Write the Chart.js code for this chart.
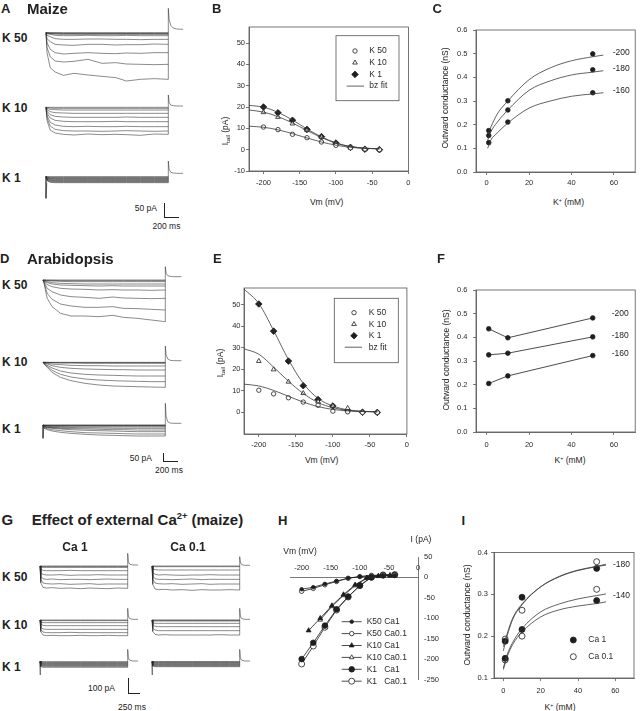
<!DOCTYPE html>
<html>
<head>
<meta charset="utf-8">
<script src="https://cdn.jsdelivr.net/npm/chart.js@4.4.1/dist/chart.umd.min.js"></script>
<style>
  body { margin: 0; background: #fff; }
  #fig { position: relative; width: 640px; height: 711px; overflow: hidden; font-family: "Liberation Sans", Arial, sans-serif; color: #222; }
  #fig canvas { position: absolute; }
  .t { position: absolute; white-space: nowrap; line-height: 1; }
  .pl { font-weight: bold; font-size: 13px; }
  .ttl { font-weight: bold; font-size: 15px; }
  .kl { font-weight: bold; font-size: 12px; }
  .ax { font-size: 8.5px; }
  sup { font-size: 62%; vertical-align: 0.55em; line-height: 0; }
  sub { font-size: 72%; vertical-align: -0.3em; line-height: 0; }
  .bar { position: absolute; border-left: 1px solid #222; border-bottom: 1px solid #222; }
</style>
</head>
<body>
<div id="fig"></div>
<script>
/* ---- 資料：從參考圖讀出 ---- */

// 電流軌跡：時間點 (ms)，振幅為參考圖讀值
const tA = [0, 15, 60, 130, 250, 400, 600, 800, 1000, 1150, 1350, 1550, 1750];
const tG = [0, 18, 70, 150, 290, 470, 700, 940, 1170, 1350, 1580, 1810, 2050];
const tailTA = [1750, 1750, 1762, 1785, 1820, 1870, 1960];
const tailTD = [1750, 1750, 1762, 1785, 1820, 1870, 1980];
const tailTG = [2050, 2050, 2064, 2090, 2130, 2180, 2290];
const onsetT = [0, 0, 12];

const aK50 = [
  [0, -60, -105, -118, -128, -122, -127, -131, -135, -145, -140, -138, -140],
  [0, -45, -72, -85, -88, -86, -80, -92, -90, -94, -95, -96, -95],
  [0, -30, -50, -60, -64, -62, -60, -62, -63, -61, -62, -60, -60],
  [0, -18, -27, -35, -37, -38, -35, -35, -37, -36, -36, -34, -35],
  [0, -8, -12, -18, -20, -20, -19, -19, -20, -20, -21, -20, -20],
  [0, -3, -5, -8, -9, -9, -8, -9, -9, -8, -9, -9, -9],
  [0, -2, -3, -4, -5, -5, -5, -5, -5, -5, -5, -5, -5],
  [0, -1, -2, -3, -3, -3, -3, -3, -3, -3, -3, -3, -3],
  [0, -1, -1, -1, -2, -2, -2, -2, -2, -2, -2, -2, -2],
  [0, 0, 0, 0, 0, 0, 0, 0, 0, 0, 0, 0, 0]
];
const aK50tail = [-140, 73, 40, 22, 14, 11, 10];
const aK10 = [
  [0, -40, -68, -77, -81, -83, -80, -82, -81, -82, -84, -80, -81],
  [0, -32, -56, -66, -70, -71, -71, -72, -71, -70, -71, -72, -71],
  [0, -25, -45, -53, -57, -58, -57, -58, -58, -57, -58, -58, -58],
  [0, -18, -32, -39, -42, -43, -43, -43, -42, -43, -43, -43, -43],
  [0, -12, -22, -27, -29, -30, -30, -30, -30, -29, -30, -30, -30],
  [0, -7, -13, -16, -17, -18, -18, -18, -18, -18, -18, -18, -18],
  [0, -3, -6, -7, -8, -8, -8, -8, -8, -8, -8, -8, -8],
  [0, -1, -2, -3, -3, -3, -3, -3, -3, -3, -3, -3, -3],
  [0, 0, 0, 0, 0, 0, 0, 0, 0, 0, 0, 0, 0]
];
const aK10tail = [-81, 37, 15, 7, 5, 4, 4];
const aK1 = [
  [0, -12, -17, -18, -18, -18, -18, -18, -18, -18, -18, -18, -18],
  [0, -11, -15, -16, -16, -16, -16, -16, -16, -16, -16, -16, -16],
  [0, -9, -13, -14, -14, -14, -14, -14, -14, -14, -14, -14, -14],
  [0, -8, -11, -12, -12, -12, -12, -12, -12, -12, -12, -12, -12],
  [0, -6, -9, -10, -10, -10, -10, -10, -10, -10, -10, -10, -10],
  [0, -5, -7, -8, -8, -8, -8, -8, -8, -8, -8, -8, -8],
  [0, -4, -5, -6, -6, -6, -6, -6, -6, -6, -6, -6, -6],
  [0, -2, -4, -4, -4, -4, -4, -4, -4, -4, -4, -4, -4],
  [0, -1, -2, -2, -2, -2, -2, -2, -2, -2, -2, -2, -2],
  [0, 0, 0, 0, 0, 0, 0, 0, 0, 0, 0, 0, 0]
];
const aK1tail = [-18, 47, 22, 13, 11, 10, 10];
const aK1onset = [0, -65, -18];

const dK50 = [
  [0, -10, -55, -80, -100, -108, -108, -110, -106, -112, -115, -120, -125],
  [0, -8, -40, -58, -72, -78, -82, -82, -80, -85, -86, -88, -90],
  [0, -6, -25, -35, -45, -50, -52, -55, -51, -54, -55, -56, -55],
  [0, -4, -14, -20, -25, -27, -28, -30, -29, -30, -30, -31, -30],
  [0, -3, -8, -12, -15, -16, -17, -18, -17, -18, -18, -18, -18],
  [0, -2, -5, -8, -10, -11, -12, -12, -12, -12, -12, -12, -12],
  [0, -1, -2, -3, -4, -5, -5, -5, -5, -5, -5, -5, -5],
  [0, 0, -1, -1, -2, -2, -2, -2, -2, -2, -2, -2, -2],
  [0, 0, 0, 0, 0, 0, 0, 0, 0, 0, 0, 0, 0]
];
const dK50tail = [-125, 40, 20, 13, 11, 10, 10];
const dK10 = [
  [0, -5, -15, -30, -45, -55, -63, -68, -71, -72, -73, -74, -75],
  [0, -4, -12, -24, -36, -44, -50, -53, -55, -56, -57, -58, -58],
  [0, -3, -9, -17, -26, -32, -36, -38, -39, -40, -41, -41, -41],
  [0, -2, -5, -10, -15, -18, -20, -21, -22, -22, -23, -23, -23],
  [0, -1, -3, -5, -7, -9, -10, -10, -11, -11, -11, -11, -11],
  [0, 0, -1, -1, -2, -2, -3, -3, -3, -3, -3, -3, -3],
  [0, 0, 0, -1, -1, -1, -1, -1, -1, -1, -1, -1, -1],
  [0, 0, 0, 0, 0, 0, 0, 0, 0, 0, 0, 0, 0]
];
const dK10tail = [-75, 49, 22, 10, 6, 5, 5];
const dK1 = [
  [0, -10, -14, -18, -22, -25, -28, -30, -31, -32, -33, -33, -33],
  [0, -8, -11, -14, -17, -20, -23, -24, -25, -26, -27, -27, -27],
  [0, -6, -8, -10, -12, -14, -16, -17, -18, -19, -20, -20, -20],
  [0, -5, -7, -8, -10, -11, -12, -13, -14, -14, -15, -15, -15],
  [0, -4, -6, -7, -8, -8, -9, -9, -10, -10, -10, -10, -10],
  [0, -3, -4, -5, -5, -6, -6, -6, -6, -6, -6, -6, -6],
  [0, -2, -2, -3, -3, -3, -3, -3, -3, -3, -3, -3, -3],
  [0, -1, -2, -2, -2, -2, -2, -2, -2, -2, -2, -2, -2],
  [0, -1, -1, -1, -1, -1, -1, -1, -1, -1, -1, -1, -1],
  [0, 0, 0, 0, 0, 0, 0, 0, 0, 0, 0, 0, 0]
];
const dK1tail = [-33, 65, 25, 10, 6, 5, 5];
const dK1onset = [0, -40, -8];

const gK50ca1 = [
  [0, -50, -64, -66, -65, -67, -66, -68, -66, -67, -68, -66, -67],
  [0, -40, -51, -53, -54, -53, -55, -54, -53, -55, -54, -54, -54],
  [0, -30, -38, -40, -39, -41, -40, -40, -41, -40, -39, -40, -40],
  [0, -20, -25, -27, -27, -26, -28, -27, -27, -26, -27, -27, -27],
  [0, -10, -13, -14, -14, -14, -13, -14, -14, -14, -14, -14, -14],
  [0, -3, -4, -4, -4, -4, -4, -4, -4, -4, -4, -4, -4],
  [0, -1, -2, -2, -2, -2, -2, -2, -2, -2, -2, -2, -2],
  [0, 0, 0, 0, 0, 0, 0, 0, 0, 0, 0, 0, 0]
];
const gK50ca1tail = [-67, 38, 14, 6, 4, 3, 3];
const gK50ca01 = [
  [0, -55, -69, -71, -70, -72, -71, -73, -71, -72, -72, -71, -72],
  [0, -40, -51, -53, -54, -53, -55, -54, -53, -55, -54, -54, -54],
  [0, -30, -38, -40, -40, -41, -40, -39, -41, -40, -40, -40, -40],
  [0, -20, -25, -27, -26, -27, -28, -27, -27, -26, -27, -27, -27],
  [0, -9, -11, -12, -12, -12, -12, -12, -12, -12, -12, -12, -12],
  [0, -1, -2, -2, -2, -2, -2, -2, -2, -2, -2, -2, -2],
  [0, 0, 0, 0, 0, 0, 0, 0, 0, 0, 0, 0, 0]
];
const gK50ca01tail = [-72, 28, 12, 5, 3, 2, 2];
const gK10ca1 = [
  [0, -35, -45, -47, -46, -47, -47, -46, -47, -47, -46, -47, -47],
  [0, -28, -36, -38, -38, -38, -37, -38, -38, -38, -38, -38, -38],
  [0, -21, -27, -28, -28, -28, -28, -28, -28, -28, -28, -28, -28],
  [0, -13, -16, -17, -17, -17, -17, -17, -17, -17, -17, -17, -17],
  [0, -6, -8, -8, -8, -8, -8, -8, -8, -8, -8, -8, -8],
  [0, -1, -2, -2, -2, -2, -2, -2, -2, -2, -2, -2, -2],
  [0, 0, 0, 0, 0, 0, 0, 0, 0, 0, 0, 0, 0]
];
const gK10ca1tail = [-47, 35, 12, 5, 3, 2, 2];
const gK10ca01 = [
  [0, -34, -43, -45, -44, -45, -45, -45, -45, -45, -44, -45, -45],
  [0, -24, -30, -32, -32, -32, -32, -32, -32, -32, -32, -32, -32],
  [0, -15, -19, -20, -20, -20, -20, -20, -20, -20, -20, -20, -20],
  [0, -8, -10, -10, -10, -10, -10, -10, -10, -10, -10, -10, -10],
  [0, -2, -3, -3, -3, -3, -3, -3, -3, -3, -3, -3, -3],
  [0, -1, -1, -1, -1, -1, -1, -1, -1, -1, -1, -1, -1],
  [0, 0, 0, 0, 0, 0, 0, 0, 0, 0, 0, 0, 0]
];
const gK10ca01tail = [-45, 35, 12, 5, 3, 2, 2];
const gK1ca1 = [
  [0, -15, -17, -17, -17, -17, -17, -17, -17, -17, -17, -17, -17],
  [0, -12, -14, -14, -14, -14, -14, -14, -14, -14, -14, -14, -14],
  [0, -10, -12, -12, -12, -12, -12, -12, -12, -12, -12, -12, -12],
  [0, -8, -10, -10, -10, -10, -10, -10, -10, -10, -10, -10, -10],
  [0, -7, -8, -8, -8, -8, -8, -8, -8, -8, -8, -8, -8],
  [0, -5, -6, -6, -6, -6, -6, -6, -6, -6, -6, -6, -6],
  [0, -3, -4, -4, -4, -4, -4, -4, -4, -4, -4, -4, -4],
  [0, -2, -2, -2, -2, -2, -2, -2, -2, -2, -2, -2, -2],
  [0, 0, 0, 0, 0, 0, 0, 0, 0, 0, 0, 0, 0]
];
const gK1ca1tail = [-17, 37, 12, 5, 3, 2, 2];
const gK1ca01 = [
  [0, -13, -15, -15, -15, -15, -15, -15, -15, -15, -15, -15, -15],
  [0, -11, -13, -13, -13, -13, -13, -13, -13, -13, -13, -13, -13],
  [0, -9, -11, -11, -11, -11, -11, -11, -11, -11, -11, -11, -11],
  [0, -8, -9, -9, -9, -9, -9, -9, -9, -9, -9, -9, -9],
  [0, -6, -7, -7, -7, -7, -7, -7, -7, -7, -7, -7, -7],
  [0, -4, -5, -5, -5, -5, -5, -5, -5, -5, -5, -5, -5],
  [0, -2, -3, -3, -3, -3, -3, -3, -3, -3, -3, -3, -3],
  [0, -1, -1, -1, -1, -1, -1, -1, -1, -1, -1, -1, -1],
  [0, 0, 0, 0, 0, 0, 0, 0, 0, 0, 0, 0, 0]
];
const gK1ca01tail = [-15, 37, 12, 5, 3, 2, 2];
const gK1onset = [0, -40, -16];

// B / E：尾電流 (pA) vs Vm (mV)
const vSteps = [-200, -180, -160, -140, -120, -100, -80, -60, -40];
const vFit = [-220, -200, -180, -160, -140, -120, -100, -80, -60, -40];
const bK50 = [10.6, 9.4, 7.2, 5.6, 3.6, 2.0, 0.9, 0.3, 0];
const bK10 = [17.5, 15.3, 12.2, 9.1, 5.9, 2.8, 0.9, 0.2, 0];
const bK1 = [20.0, 17.3, 13.8, 9.5, 6.1, 3.1, 1.1, 0.2, 0];
const bFit50 = [11.0, 10.5, 9.3, 7.5, 5.5, 3.6, 2.1, 1.1, 0.6, 0.4];
const bFit10 = [18.6, 17.6, 15.5, 12.5, 9.0, 5.7, 3.0, 1.4, 0.7, 0.4];
const bFit1 = [20.8, 19.9, 17.5, 13.9, 9.7, 6.0, 3.2, 1.5, 0.7, 0.4];
const eK50 = [10.3, 8.6, 6.8, 4.8, 3.3, 0.6, 0.3, 0, 0];
const eK10 = [23.8, 19.9, 14.2, 8.9, 5.0, 3.0, 2.0, 0.3, 0];
const eK1 = [50.3, 37.7, 23.8, 12.4, 6.0, 3.0, 0.9, 0.1, 0];
const eFit50 = [13.1, 12.3, 10.2, 7.5, 4.8, 2.7, 1.4, 0.7, 0.4, 0.3];
const eFit10 = [29.5, 27.0, 21.0, 14.5, 8.8, 4.6, 2.2, 1.0, 0.5, 0.3];
const eFit1 = [57.2, 50.5, 38.0, 24.5, 13.5, 6.5, 3.0, 1.2, 0.5, 0.3];
const vTicks = [-200, -150, -100, -50, 0];
const iTicksB = [-10, 0, 10, 20, 30, 40, 50];
const iTicksE = [0, 10, 20, 30, 40, 50];
const tailLegend = ['K 50', 'K 10', 'K 1', 'bz fit'];

// C / F / I：外向電導 (nS) vs K+ (mM)
const kConc = [1, 10, 50];
const kFit = [0.5, 2, 5, 10, 20, 30, 40, 50, 55];
const c200 = [0.175, 0.301, 0.499];
const c180 = [0.154, 0.262, 0.432];
const c160 = [0.124, 0.211, 0.335];
const cFit200 = [0.16, 0.19, 0.245, 0.30, 0.39, 0.44, 0.47, 0.487, 0.494];
const cFit180 = [0.135, 0.17, 0.21, 0.262, 0.345, 0.385, 0.41, 0.422, 0.428];
const cFit160 = [0.10, 0.135, 0.165, 0.207, 0.27, 0.30, 0.32, 0.33, 0.335];
const f200 = [0.436, 0.398, 0.482];
const f180 = [0.326, 0.333, 0.402];
const f160 = [0.205, 0.237, 0.323];
const kTicks = [0, 20, 40, 60];
const gTicksCF = [0, 0.1, 0.2, 0.3, 0.4, 0.5, 0.6];
const kFitI = [0, 2, 5, 10, 20, 30, 40, 50, 55];
const i180ca1 = [0.188, 0.293, 0.362];
const i180ca01 = [0.193, 0.262, 0.378];
const i140ca1 = [0.147, 0.216, 0.285];
const i140ca01 = [0.143, 0.200, 0.312];
const iFit180ca1 = [0.165, 0.20, 0.24, 0.275, 0.318, 0.343, 0.358, 0.367, 0.372];
const iFit180ca01 = [0.175, 0.205, 0.243, 0.277, 0.318, 0.342, 0.357, 0.366, 0.370];
const iFit140ca01 = [0.124, 0.155, 0.185, 0.218, 0.258, 0.277, 0.289, 0.297, 0.301];
const iFit140ca1 = [0.120, 0.150, 0.180, 0.210, 0.246, 0.263, 0.272, 0.278, 0.282];
const gTicksI = [0.1, 0.2, 0.3, 0.4];
const caLegend = ['Ca 1', 'Ca 0.1'];

// H：I-V (maize, Ca 1 vs Ca 0.1)
const vK50 = [-200, -180, -160, -140, -120, -100, -80, -60, -40];
const hK50ca1 = [-29, -24, -16, -9, -2, 2, 4, 5, 5];
const hK50ca01 = [-34, -27, -18, -10, -2, 2, 5, 6, 6];
const vK10ca1 = [-188, -168, -148, -128, -108, -88, -68, -48];
const hK10ca1 = [-130, -100, -69, -42, -18, -1, 3, 4];
const vK10ca01 = [-168, -148, -128, -108, -88, -68, -48];
const hK10ca01 = [-104, -71, -44, -20, -2, 4, 6];
const vK1 = [-200, -180, -160, -140, -120, -100, -80, -60, -40];
const hK1ca1 = [-200, -160, -118, -78, -47, -20, 0, 5, 6];
const hK1ca01 = [-212, -168, -122, -80, -48, -20, 1, 6, 7];
const hVTicks = [-200, -150, -100, -50, 0];
const hITicks = [50, 0, -50, -100, -150, -200, -250];
const ivLegend = ['K50 Ca1', 'K50 Ca0.1', 'K10 Ca1', 'K10 Ca0.1', 'K1   Ca1', 'K1   Ca0.1'];

/* ---- 共用設定 ---- */
const INK = '#1e1e1e', TRACE = '#2b2b2b', AX = '#555', TXT = '#2a2a2a';
const FONT = '"Liberation Sans", Arial, sans-serif';
Chart.defaults.font.family = FONT;
Chart.defaults.responsive = false;
Chart.defaults.animation = false;
Chart.defaults.plugins.legend.display = false;
Chart.defaults.plugins.tooltip.enabled = false;

const fig = document.getElementById('fig');
function canvasAt(l, t, w, h) {
  const c = document.createElement('canvas');
  c.width = w; c.height = h;
  c.style.left = l + 'px'; c.style.top = t + 'px';
  fig.appendChild(c);
  return c;
}

const frame = {
  id: 'frame',
  beforeDatasetsDraw(chart, args, o) {
    if (!o.on) return;
    const { left, top, width, height } = chart.chartArea;
    const c = chart.ctx;
    c.save(); c.strokeStyle = AX; c.lineWidth = 0.8;
    c.strokeRect(left, top, width, height);
    c.restore();
  }
};
const boxLegend = {
  id: 'boxLegend',
  afterDatasetsDraw(chart, args, o) {
    if (!o.rows) return;
    const c = chart.ctx;
    c.save();
    if (o.box) { c.strokeStyle = AX; c.lineWidth = 0.8; c.strokeRect(...o.box); }
    c.font = '8.5px ' + FONT; c.textBaseline = 'middle'; c.fillStyle = TXT;
    o.rows.forEach((r, i) => {
      const y = o.y + i * o.dy, ds = chart.data.datasets[r.ds];
      if (r.mode.includes('l')) {
        c.strokeStyle = ds.borderColor; c.lineWidth = ds.borderWidth;
        c.beginPath(); c.moveTo(o.lx[0], y); c.lineTo(o.lx[1], y); c.stroke();
      }
      if (r.mode.includes('p')) {
        c.fillStyle = ds.pointBackgroundColor; c.strokeStyle = ds.pointBorderColor; c.lineWidth = ds.pointBorderWidth;
        Chart.helpers.drawPoint(c, { pointStyle: ds.pointStyle, radius: ds.pointRadius, borderWidth: ds.pointBorderWidth, rotation: 0 }, o.px, y);
      }
      c.fillStyle = TXT;
      c.fillText(r.text, o.tx, y);
    });
    c.restore();
  }
};
Chart.register(frame, boxLegend);

const xy = (xs, ys) => ys.map((y, i) => ({ x: xs[i], y }));
const trace = (t, v) => ({ data: xy(t, v), borderColor: TRACE, borderWidth: 0.55, pointRadius: 0, clip: false });
const pts = (xs, ys, style, r, filled, joined) => ({
  data: xy(xs, ys), showLine: !!joined, pointStyle: style, pointRadius: r,
  pointBackgroundColor: filled ? INK : '#fff', pointBorderColor: INK, pointBorderWidth: 0.8,
  borderColor: INK, borderWidth: 0.8, tension: 0, clip: false
});
const fit = (xs, ys) => ({ data: xy(xs, ys), pointRadius: 0, borderColor: '#3a3a3a', borderWidth: 0.8, cubicInterpolationMode: 'monotone', clip: false });

function traceChart(box, xr, yr, t, traces, tailT, tail, onset) {
  const ds = traces.map(v => trace(t, v));
  ds.push(trace(tailT, tail));
  if (onset) ds.push(trace(onsetT, onset));
  new Chart(canvasAt(...box), {
    type: 'line',
    data: { datasets: ds },
    options: {
      layout: { padding: 0 },
      scales: {
        x: { type: 'linear', display: false, min: xr[0], max: xr[1] },
        y: { type: 'linear', display: false, min: yr[0], max: yr[1] }
      }
    }
  });
}

function axis(range, ticks, size, pad, fmt, horiz) {
  return {
    type: 'linear', min: range[0], max: range[1],
    grid: { drawOnChartArea: false, tickLength: 3, color: AX, lineWidth: 0.8 },
    border: { color: AX, width: 0.8 },
    ticks: { font: { size: 7.5 }, color: TXT, padding: pad, maxRotation: 0, autoSkip: false, callback: fmt || (v => v) },
    afterBuildTicks: s => { s.ticks = ticks.map(v => ({ value: v })); },
    afterFit: s => { if (horiz) s.height = size; else s.width = size; }
  };
}
function boxChart(box, pad, datasets, x, y, legend) {
  new Chart(canvasAt(...box), {
    type: 'line',
    data: { datasets },
    options: {
      layout: { padding: pad },
      scales: { x, y },
      plugins: { frame: { on: true }, boxLegend: legend || {} }
    }
  });
}
const f1 = v => v.toFixed(1);

/* ---- A / D / G：電流軌跡 ---- */
const xrAD = [-143, 2003], xrG = [-234, 2384];
traceChart([36, 4, 150, 82], xrAD, [-160, 86], tA, aK50, tailTA, aK50tail);
traceChart([36, 90, 150, 50], xrAD, [-98, 52], tA, aK10, tailTA, aK10tail);
traceChart([36, 155, 150, 47], xrAD, [-76, 65], tA, aK1, tailTA, aK1tail, aK1onset);
traceChart([33, 262, 150, 64], xrAD, [-138, 54], tA, dK50, tailTD, dK50tail);
traceChart([33, 342, 150, 50], xrAD, [-89, 61], tA, dK10, tailTD, dK10tail);
traceChart([33, 400, 150, 42], xrAD, [-51, 75], tA, dK1, tailTD, dK1tail, dK1onset);
traceChart([30, 550, 112, 44], xrG, [-84, 48], tG, gK50ca1, tailTG, gK50ca1tail);
traceChart([142, 550, 112, 44], xrG, [-84, 48], tG, gK50ca01, tailTG, gK50ca01tail);
traceChart([30, 605, 112, 35], xrG, [-60, 45], tG, gK10ca1, tailTG, gK10ca1tail);
traceChart([142, 605, 112, 35], xrG, [-60, 45], tG, gK10ca01, tailTG, gK10ca01tail);
traceChart([30, 646, 112, 32], xrG, [-49, 47], tG, gK1ca1, tailTG, gK1ca1tail, gK1onset);
traceChart([142, 646, 112, 32], xrG, [-49, 47], tG, gK1ca01, tailTG, gK1ca01tail, gK1onset);

/* ---- B / E：尾電流 ---- */
const tailSets = (k50, k10, k1, f50, f10, f1_) => [
  fit(vFit, f50), fit(vFit, f10), fit(vFit, f1_),
  pts(vSteps, k50, 'circle', 2.2, false),
  pts(vSteps, k10, 'triangle', 2.7, false),
  pts(vSteps, k1, 'rectRot', 3.3, true)
];
const tailRows = tailLegend.map((text, i) => ({ ds: i < 3 ? i + 3 : 0, text, mode: i < 3 ? 'p' : 'l' }));
boxChart([215, 20, 200, 170], { top: 7, right: 6 },
  tailSets(bK50, bK10, bK1, bFit50, bFit10, bFit1),
  axis([-220, 0], vTicks, 19, 4.5, null, true),
  axis([-10, 57.5], iTicksB, 34, 1),
  { box: [121, 15.7, 63, 65], px: 140, lx: [131.7, 149], tx: 154.3, y: 31, dy: 11.7, rows: tailRows });
boxChart([210, 280, 202, 174], { top: 8, right: 5 },
  tailSets(eK50, eK10, eK1, eFit50, eFit10, eFit1),
  axis([-220, 0], vTicks, 20, 3, null, true),
  axis([-10, 57.7], iTicksE, 34, 0.5),
  { box: [124.3, 18.3, 64, 64.4], px: 144, lx: [134.7, 152], tx: 158.7, y: 32.7, dy: 11.5, rows: tailRows });

/* ---- C / F / I：電導 ---- */
boxChart([440, 20, 200, 170], { top: 7, right: 1 },
  [fit(kFit, cFit200), fit(kFit, cFit180), fit(kFit, cFit160),
   pts(kConc, c200, 'circle', 2.3, true), pts(kConc, c180, 'circle', 2.3, true), pts(kConc, c160, 'circle', 2.3, true)],
  axis([-5, 70], kTicks, 18, 3.5, null, true),
  axis([0, 0.6], gTicksCF, 36, 5.5, f1));
boxChart([440, 280, 200, 172], { top: 8, right: 1 },
  [pts(kConc, f200, 'circle', 2.3, true, true), pts(kConc, f180, 'circle', 2.3, true, true), pts(kConc, f160, 'circle', 2.3, true, true)],
  axis([-5, 70], kTicks, 20, 5, null, true),
  axis([0, 0.6], gTicksCF, 36, 5.5, f1));
boxChart([460, 545, 180, 155], { top: 7, right: 6 },
  [fit(kFitI, iFit180ca1), fit(kFitI, iFit180ca01), fit(kFitI, iFit140ca01), fit(kFitI, iFit140ca1),
   pts(kConc, i180ca1, 'circle', 3, true), pts(kConc, i180ca01, 'circle', 3, false),
   pts(kConc, i140ca1, 'circle', 3, true), pts(kConc, i140ca01, 'circle', 3, false)],
  axis([-5, 70], kTicks, 22, 5, null, true),
  axis([0.1, 0.4], gTicksI, 34, 3, f1),
  { px: 113.3, tx: 128.3, y: 95, dy: 16.7, rows: caLegend.map((text, i) => ({ ds: 4 + i, text, mode: 'p' })) });

/* ---- H：I-V ---- */
const hSets = [
  pts(vK50, hK50ca1, 'circle', 1.8, true, true),
  pts(vK50, hK50ca01, 'circle', 2.2, false, true),
  pts(vK10ca1, hK10ca1, 'triangle', 2.8, true, true),
  pts(vK10ca01, hK10ca01, 'triangle', 2.6, false, true),
  pts(vK1, hK1ca1, 'circle', 2.8, true, true),
  pts(vK1, hK1ca01, 'circle', 3, false, true)
];
new Chart(canvasAt(280, 540, 180, 150), {
  type: 'line',
  data: { datasets: hSets },
  options: {
    layout: { padding: { left: 10, top: 17, bottom: 6, right: 0 } },
    scales: {
      x: {
        type: 'linear', min: -220, max: 0, position: { y: 0 },
        grid: { display: false, drawTicks: false }, border: { color: AX, width: 0.8 },
        ticks: { font: { size: 7.5 }, color: TXT, padding: -13.5, maxRotation: 0, autoSkip: false },
        afterBuildTicks: s => { s.ticks = hVTicks.map(v => ({ value: v })); }
      },
      y: {
        type: 'linear', min: -250, max: 50, position: 'right',
        grid: { display: false, drawTicks: false }, border: { color: AX, width: 0.8 },
        ticks: { font: { size: 7.5 }, color: TXT, padding: 6, autoSkip: false },
        afterBuildTicks: s => { s.ticks = hITicks.map(v => ({ value: v })); },
        afterFit: s => { s.width = 42; }
      }
    },
    plugins: {
      boxLegend: { px: 71.7, lx: [61.7, 81.7], tx: 86.7, y: 81.7, dy: 11.9,
        rows: ivLegend.map((text, i) => ({ ds: i, text, mode: 'lp' })) }
    }
  }
});

/* ---- 文字標籤 ---- */
function txt(html, x, y, cls, anchor) {
  const d = document.createElement('div');
  d.className = 't ' + cls;
  d.innerHTML = html;
  d.style.left = x + 'px'; d.style.top = y + 'px';
  d.style.transform = {
    l: 'translate(0,-50%)', c: 'translate(-50%,-50%)', r: 'translate(-100%,-50%)',
    rot: 'translate(-50%,-50%) rotate(-90deg)'
  }[anchor];
  fig.appendChild(d);
}
const ITAIL = 'I<sub>tail</sub> (pA)', KMM = 'K<sup>+</sup> (mM)', GOUT = 'Outward conductance (nS)';
[
  ['A', 1, 7.5, 'pl', 'l'], ['Maize', 27, 7.5, 'ttl', 'l'],
  ['B', 212, 7.5, 'pl', 'l'], ['C', 432.5, 7.5, 'pl', 'l'],
  ['D', 0, 258, 'pl', 'l'], ['Arabidopsis', 27, 258, 'ttl', 'l'],
  ['E', 213, 258, 'pl', 'l'], ['F', 437, 258, 'pl', 'l'],
  ['G', 1.5, 518.5, 'ttl', 'l'], ['Effect of external Ca<sup>2+</sup> (maize)', 31.7, 518.5, 'ttl', 'l'],
  ['H', 278, 519.5, 'pl', 'l'], ['I', 461.5, 519.5, 'pl', 'l'],
  ['K 50', 2, 38, 'kl', 'l'], ['K 10', 2, 108, 'kl', 'l'], ['K 1', 2, 178, 'kl', 'l'],
  ['K 50', 2, 285, 'kl', 'l'], ['K 10', 2, 361.7, 'kl', 'l'], ['K 1', 2, 429.3, 'kl', 'l'],
  ['K 50', 2, 577.3, 'kl', 'l'], ['K 10', 2, 625, 'kl', 'l'], ['K 1', 2, 666.7, 'kl', 'l'],
  ['Ca 1', 75, 547, 'kl', 'c'], ['Ca 0.1', 188, 547, 'kl', 'c'],
  ['50 pA', 157, 208, 'ax', 'r'], ['200 ms', 166.5, 225.7, 'ax', 'c'],
  ['50 pA', 152, 458, 'ax', 'r'], ['200 ms', 169, 470, 'ax', 'c'],
  ['100 pA', 115, 687.7, 'ax', 'r'], ['250 ms', 132, 706.7, 'ax', 'c'],
  [ITAIL, 225, 131, 'ax', 'rot'], ['Vm (mV)', 326.7, 201.7, 'ax', 'c'],
  [GOUT, 445, 98, 'ax', 'rot'], [KMM, 568.5, 201.7, 'ax', 'c'],
  [ITAIL, 220, 363, 'ax', 'rot'], ['Vm (mV)', 321.7, 460, 'ax', 'c'],
  [GOUT, 445.7, 360, 'ax', 'rot'], [KMM, 570, 460, 'ax', 'c'],
  [GOUT, 467, 615, 'ax', 'rot'], [KMM, 560, 706.7, 'ax', 'c'],
  ['Vm (mV)', 300, 550.7, 'ax', 'c'], ['I (pA)', 421, 539, 'ax', 'c'],
  ['-200', 612.7, 51.7, 'ax', 'l'], ['-180', 612.7, 68.3, 'ax', 'l'], ['-160', 612.7, 90, 'ax', 'l'],
  ['-200', 611.7, 313.3, 'ax', 'l'], ['-180', 611.7, 335, 'ax', 'l'], ['-160', 611.7, 352.7, 'ax', 'l'],
  ['-180', 613, 564, 'ax', 'l'], ['-140', 613, 595, 'ax', 'l']
].forEach(a => txt(...a));

/* ---- 比例尺 ---- */
[[164.3, 202.7, 14, 14], [163, 452.7, 14, 8], [128.3, 678, 11, 14.7]].forEach(([l, t, w, h]) => {
  const b = document.createElement('div');
  b.className = 'bar';
  Object.assign(b.style, { left: l + 'px', top: t + 'px', width: w + 'px', height: h + 'px' });
  fig.appendChild(b);
});
</script>
</body>
</html>
